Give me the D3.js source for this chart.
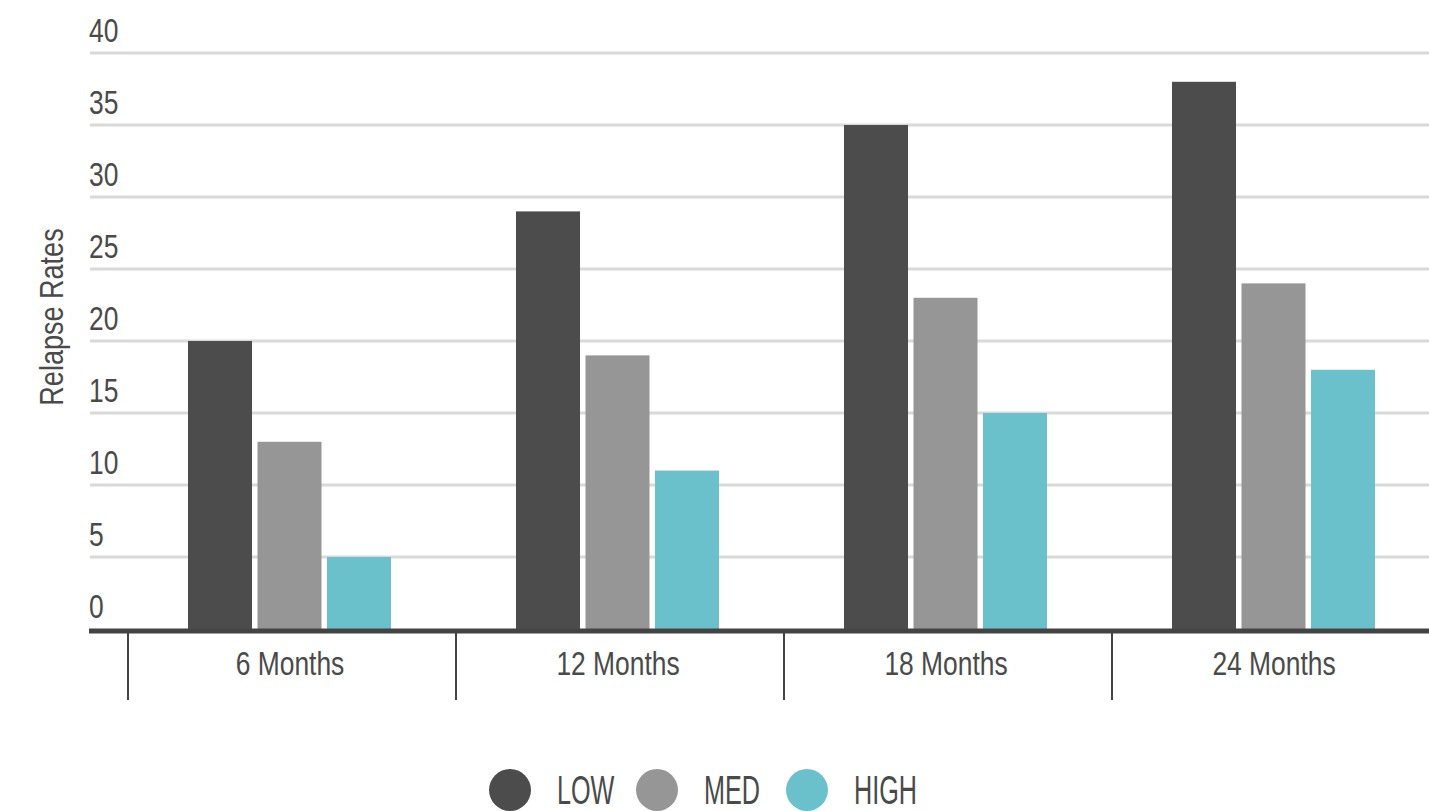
<!DOCTYPE html>
<html>
<head>
<meta charset="utf-8">
<script src="https://cdn.jsdelivr.net/npm/d3@7"></script>
<style>
  html, body { margin: 0; padding: 0; background: #fff; }
  svg text { font-family: "Liberation Sans", "Roboto", sans-serif; fill: #4a4a4a; }
</style>
</head>
<body>
<svg id="chart" width="1429" height="811"></svg>
<script>
const categories = ["6 Months", "12 Months", "18 Months", "24 Months"];
const seriesNames = ["LOW", "MED", "HIGH"];
const lowValues = [20, 29, 35, 38];
const medValues = [13, 19, 23, 24];
const highValues = [5, 11, 15, 18];
const yTicks = [0, 5, 10, 15, 20, 25, 30, 35, 40];
const colors = ["#4c4c4c", "#969696", "#6bc1cb"];
const yTitle = "Relapse Rates";

const seriesValues = [lowValues, medValues, highValues];
const svg = d3.select("#chart");
const NARROW = 0.8;

const x0 = d3.scaleBand().domain(categories).range([128, 1440]).padding(0);
const x1 = d3.scaleBand().domain(seriesNames).range([60, 263]).paddingInner(0.079);
const y = d3.scaleLinear().domain([0, 40]).range([629, 53]);

// gridlines
svg.append("g").selectAll("line").data(yTicks.filter(d => d > 0)).join("line")
  .attr("x1", 90).attr("x2", 1429)
  .attr("y1", d => y(d)).attr("y2", d => y(d))
  .attr("stroke", "#d9d9d9").attr("stroke-width", 3);

// tick labels
svg.append("g").selectAll("text").data(yTicks).join("text")
  .attr("transform", d => `translate(89,${y(d) - 11}) scale(${NARROW},1)`)
  .attr("font-size", 33)
  .text(d => d);

// bars
const groups = svg.append("g").selectAll("g").data(categories).join("g")
  .attr("transform", d => `translate(${x0(d)},0)`);
groups.selectAll("rect").data((c, i) => seriesNames.map((s, j) => ({ s, j, v: seriesValues[j][i] })))
  .join("rect")
  .attr("x", d => x1(d.s)).attr("width", x1.bandwidth())
  .attr("y", d => y(d.v)).attr("height", d => y(0) - y(d.v))
  .attr("fill", d => colors[d.j]);

// axis line
svg.append("line").attr("x1", 89).attr("x2", 1429).attr("y1", 631).attr("y2", 631)
  .attr("stroke", "#444").attr("stroke-width", 5);

// category separators
svg.append("g").selectAll("line").data(categories).join("line")
  .attr("x1", d => x0(d)).attr("x2", d => x0(d))
  .attr("y1", 633).attr("y2", 700)
  .attr("stroke", "#444").attr("stroke-width", 2);

// category labels
svg.append("g").selectAll("text").data(categories).join("text")
  .attr("transform", d => `translate(${x0(d) + x0.bandwidth() / 2 - 2},675) scale(${NARROW},1)`)
  .attr("text-anchor", "middle")
  .attr("font-size", 33)
  .text(d => d);

// y title
svg.append("text")
  .attr("transform", `translate(63,317) rotate(-90) scale(0.82,1)`)
  .attr("text-anchor", "middle")
  .attr("font-size", 33)
  .text(yTitle);

// legend
const legendX = [510, 657, 807];
const lg = svg.append("g").selectAll("g").data(seriesNames).join("g")
  .attr("transform", (d, i) => `translate(${legendX[i]},790)`);
lg.append("circle").attr("r", 21).attr("fill", (d, i) => colors[i]);
lg.append("text")
  .attr("transform", "translate(47,14) scale(0.63,1)")
  .attr("font-size", 40).text(d => d);
</script>
</body>
</html>
